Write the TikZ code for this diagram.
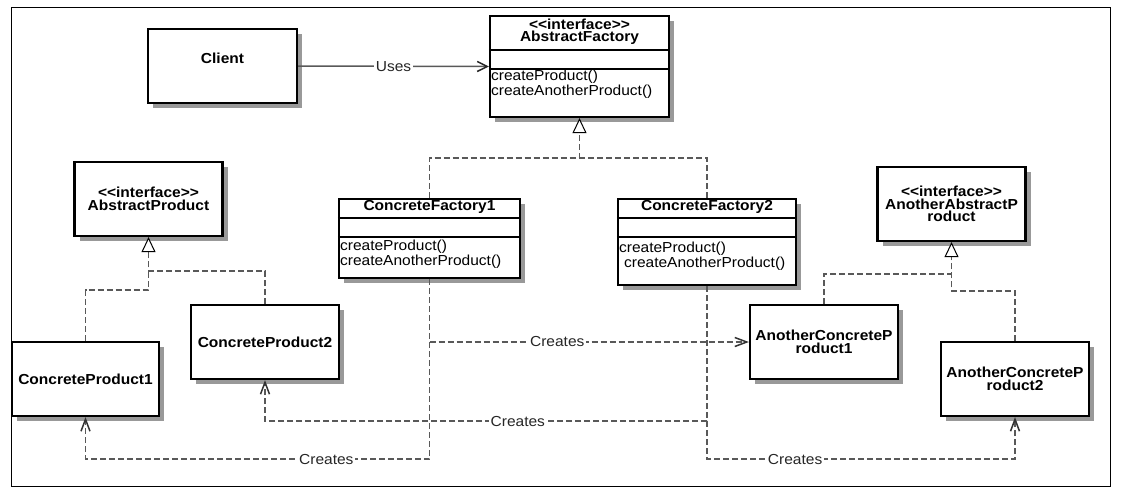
\documentclass[tikz,border=0pt]{standalone}
\usepackage{fontspec}
\setmainfont{Liberation Sans}[FakeStretch=1.07]
\usetikzlibrary{arrows.meta,shadows,positioning}

\newcommand{\umlfont}{\fontsize{14.5}{12.5}\selectfont}
\newcommand{\stereo}[1]{<\kern0pt<#1>\kern0pt>}

\tikzset{cls/.style = {draw, line width=2.2pt, fill=white, inner sep=0pt,
    drop shadow={shadow xshift=5pt, shadow yshift=-5pt, fill=black!40, opacity=1}}}

\begin{document}
\begin{tikzpicture}[x=1pt, y=-1pt]
            % Define node styles
            \tikzstyle{prod} = [cls, minimum width=148pt, minimum height=74pt, align=center, font=\umlfont\bfseries]
            \tikzstyle{title} = [inner sep=0pt, align=center, font=\umlfont\bfseries]
            \tikzstyle{ops} = [anchor=west, inner sep=1pt, align=left, font=\umlfont]
            \tikzstyle{sep} = [line width=1.2pt]
            \tikzstyle{lbl} = [fill=white, inner sep=2pt, text=black!85, font=\umlfont]
            \tikzstyle{dashline} = [draw=black!65, line width=1.5pt, dash pattern=on 6pt off 3pt]
            \tikzstyle{realize} = [dashline, -{Triangle[length=15pt, width=14pt, black, fill=white, line width=1pt]}]
            \tikzstyle{creates} = [dashline, -{Straight Barb[length=12pt, width=9pt, black!80]}]
            \tikzstyle{uses} = [draw=black!65, line width=1.5pt, -{Straight Barb[length=10pt, width=10pt, black!85]}]

            \useasboundingbox (0,0) rectangle (1126,495);
            \draw[line width=1pt] (11,8) rectangle (1110,486);

            % Client and factories
            \node[cls, minimum width=149pt, minimum height=74pt] (client) at (222.5,66) {};
            \node[title] (clientname) at ([yshift=8pt]client.center) {Client};
            \node[cls, minimum width=179pt, minimum height=101pt] (af) at (579.5,66.5) {};
            \node[cls, minimum width=181pt, minimum height=79pt] (cf1) at (429.5,238.5) {};
            \node[cls, minimum width=178pt, minimum height=86pt] (cf2) at (707,242) {};

            % Compartments
            \foreach \b/\ya/\yb in {af/50/69, cf1/218/237, cf2/218/237} {
                \draw[sep] (\b.west |- 0,\ya) -- (\b.east |- 0,\ya);
                \draw[sep] (\b.west |- 0,\yb) -- (\b.east |- 0,\yb);
            }

            \node[title] (afname) at ([yshift=-17pt]af.north) {\stereo{interface}\\AbstractFactory};
            \node[ops] (afops) at ([xshift=1pt]af.west |- 0,84) {createProduct()\\createAnotherProduct()};
            \node[title] (cf1name) at ([yshift=-9.5pt]cf1.north) {ConcreteFactory1};
            \node[ops] (cf1ops) at ([xshift=1pt]cf1.west |- 0,254) {createProduct()\\createAnotherProduct()};
            \node[title] (cf2name) at ([yshift=-9.5pt]cf2.north) {ConcreteFactory2};
            \node[ops] (cf2ops) at ([xshift=1pt]cf2.west |- 0,256) {createProduct()\\\hspace*{5pt}createAnotherProduct()};

            % Product interfaces
            \node[prod] (ap) at (148.5,199) {\stereo{interface}\\AbstractProduct};
            \node[prod] (aap) at (951.5,204) {\stereo{interface}\\AnotherAbstractP\\roduct};

            % Concrete products
            \node[prod, minimum width=147pt] (cp1) at (85.5,379) {ConcreteProduct1};
            \node[prod] (cp2) at (265,342) {ConcreteProduct2};
            \node[prod] (acp1) at (824,342) {AnotherConcreteP\\roduct1};
            \node[prod] (acp2) at (1015,379) {AnotherConcreteP\\roduct2};

            % Uses
            \draw[uses] (client.east) -- node[lbl] (useslbl) {Uses} (af.west);

            % Realizations
            \draw[dashline] (cf2.north) |- ([yshift=-40pt]af.south);
            \draw[realize] (cf1.north) |- ([yshift=-40pt]af.south) -- (af.south);
            \draw[dashline] (cp1.north) |- ([yshift=-53pt]ap.south) -- ([yshift=-34pt]ap.south);
            \draw[realize] (cp2.north) |- ([yshift=-34pt]ap.south) -- (ap.south);
            \draw[dashline] (acp2.north) |- ([yshift=-49pt]aap.south) -- ([yshift=-32pt]aap.south);
            \draw[realize] (acp1.north) |- ([yshift=-32pt]aap.south) -- (aap.south);

            % Creates
            \draw[creates] (cf1.south) |- node[lbl, pos=0.70] (creates1) {Creates} (acp1.west);
            \draw[creates] (cf1.south) |- node[lbl, pos=0.65] (creates2) {Creates} ([yshift=-42pt]cp1.south) -- (cp1.south);
            \draw[creates] (cf2.south) |- node[lbl, pos=0.714] (creates3) {Creates} ([yshift=-41pt]cp2.south) -- (cp2.south);
            \draw[creates] (cf2.south) |- node[lbl, pos=0.643] (creates4) {Creates} ([yshift=-42pt]acp2.south) -- (acp2.south);
\end{tikzpicture}
\end{document}
